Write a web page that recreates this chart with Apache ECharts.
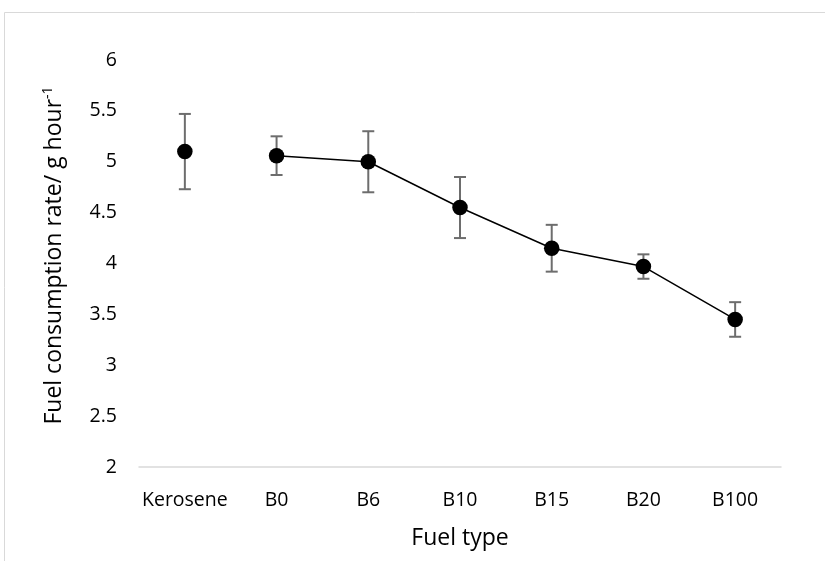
<!DOCTYPE html>
<html>
<head>
<meta charset="utf-8">
<script src="https://cdn.jsdelivr.net/npm/echarts@6/dist/echarts.min.js"></script>
<style>
  html, body { margin: 0; padding: 0; background: #ffffff; }
  #chart { width: 825px; height: 561px; }
</style>
</head>
<body>
<div id="chart"></div>
<script>
// Fuel types on the category axis
const fuelTypes = ['Kerosene', 'B0', 'B6', 'B10', 'B15', 'B20', 'B100'];
// Mean fuel consumption rate (g hour^-1)
const meanRate = [5.10, 5.06, 5.00, 4.55, 4.15, 3.97, 3.45];
// Error bar half-widths (± g hour^-1)
const errRate = [0.37, 0.19, 0.30, 0.30, 0.23, 0.12, 0.17];
// Biodiesel blends joined by a line (Kerosene stands alone)
const blendTypes = ['B0', 'B6', 'B10', 'B15', 'B20', 'B100'];

const yTicks = { min: 2, max: 6, interval: 0.5 };

const blendLine = fuelTypes.map((f, i) => blendTypes.includes(f) ? meanRate[i] : '-');
const errData = fuelTypes.map((f, i) => [i, meanRate[i] - errRate[i], meanRate[i] + errRate[i]]);

const font = "'Open Sans', 'Liberation Sans', sans-serif";
const chart = echarts.init(document.getElementById('chart'), null, { renderer: 'canvas' });

chart.setOption({
  animation: false,
  backgroundColor: '#ffffff',
  graphic: [{
    type: 'rect',
    shape: { x: 4.5, y: 12.5, width: 830, height: 560 },
    style: { fill: 'none', stroke: '#d9d9d9', lineWidth: 1 },
    silent: true
  }],
  grid: { left: 139, right: 44, top: 60, bottom: 94 },
  xAxis: {
    type: 'category',
    data: fuelTypes,
    boundaryGap: true,
    axisLine: { show: true, lineStyle: { color: '#d9d9d9', width: 1.5 } },
    axisTick: { show: false },
    axisLabel: { color: '#000', fontFamily: font, fontSize: 19.5, margin: 23, interval: 0, hideOverlap: false },
    name: 'Fuel type',
    nameLocation: 'middle',
    nameGap: 60,
    nameTextStyle: { color: '#000', fontFamily: font, fontSize: 23 }
  },
  yAxis: {
    type: 'value',
    min: yTicks.min,
    max: yTicks.max,
    interval: yTicks.interval,
    axisLine: { show: false },
    axisTick: { show: false },
    splitLine: { show: false },
    axisLabel: { color: '#000', fontFamily: font, fontSize: 19.5, margin: 22 },
    name: '{t|Fuel consumption rate/ g hour}{s|-1}',
    nameLocation: 'middle',
    nameGap: 72,
    nameTextStyle: {
      color: '#000',
      padding: [0, 0, 0, 16],
      rich: {
        t: { fontFamily: font, fontSize: 23, color: '#000' },
        s: { fontFamily: font, fontSize: 14, color: '#000', verticalAlign: 'top', padding: [0, 0, 12, 0] }
      }
    }
  },
  series: [
    {
      type: 'custom',
      name: 'error',
      z: 1,
      data: errData,
      renderItem: function (params, api) {
        const x = api.coord([api.value(0), api.value(1)])[0];
        const lo = api.coord([api.value(0), api.value(1)])[1];
        const hi = api.coord([api.value(0), api.value(2)])[1];
        const hw = 6;
        const style = { stroke: '#6d6d6d', lineWidth: 2 };
        return {
          type: 'group',
          children: [
            { type: 'line', shape: { x1: x, y1: lo, x2: x, y2: hi }, style },
            { type: 'line', shape: { x1: x - hw, y1: lo, x2: x + hw, y2: lo }, style },
            { type: 'line', shape: { x1: x - hw, y1: hi, x2: x + hw, y2: hi }, style }
          ]
        };
      }
    },
    {
      type: 'line',
      name: 'blend',
      z: 2,
      data: blendLine,
      connectNulls: false,
      showSymbol: false,
      symbol: 'none',
      lineStyle: { color: '#000', width: 1.5 }
    },
    {
      type: 'scatter',
      name: 'mean',
      z: 3,
      data: meanRate,
      symbol: 'circle',
      symbolSize: 15.5,
      itemStyle: { color: '#000', opacity: 1 }
    }
  ]
});
</script>
</body>
</html>
